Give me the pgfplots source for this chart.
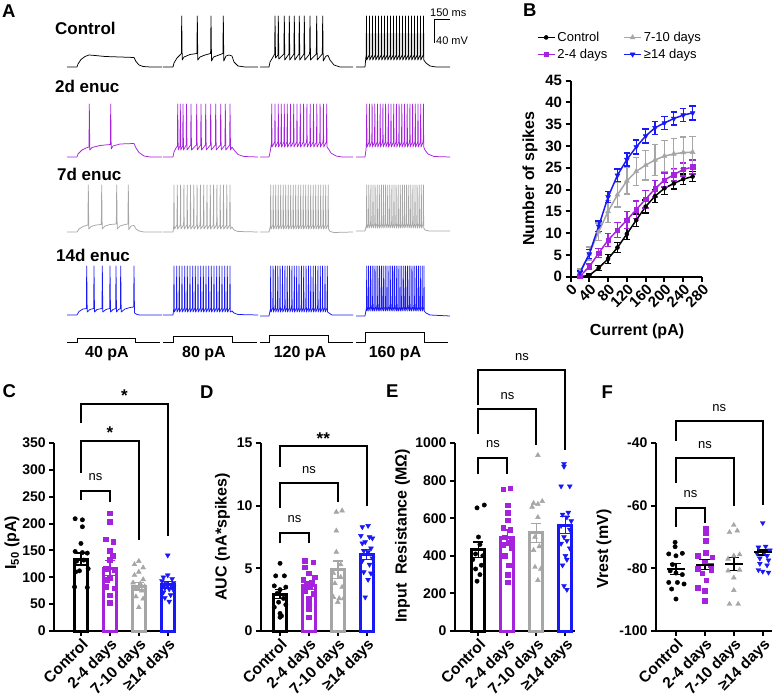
\documentclass[border=0pt]{standalone}
\usepackage{pgfplots}
\pgfplotsset{compat=1.18}
\usepackage{fontspec}
\setmainfont{Liberation Sans}
\definecolor{cpur}{RGB}{165,35,220}
\definecolor{cgry}{RGB}{166,166,166}
\definecolor{cblu}{RGB}{25,25,245}
\newcommand{\fs}[1]{\fontsize{#1}{#1}\selectfont}
\pgfplotsset{
  prism/.style={scale only axis, anchor=south west,
    axis x line*=bottom, axis y line*=left,
    axis line style={-, line width=2pt, black},
    tick align=outside, major tick length=5pt,
    major tick style={line width=2pt, black},
    /pgf/number format/assume math mode=true,
    /pgf/number format/1000 sep={},
    ticklabel style={font=\fs{14}\bfseries},
    label style={font=\fs{16}\bfseries},
    clip=false},
  catax/.style={prism, width=#1, height=188pt,
    xtick={0,1,2,3},
    xticklabels={Control,2-4 days,7-10 days,≥14 days},
    xticklabel style={rotate=45, anchor=north east, inner sep=1pt, font=\fs{15.5}\bfseries}},
  trace/.style={line width=0.75pt, line join=round},
}
% bar with SEM: color, x, mean, sem
\newcommand{\pbar}[4]{\addplot[ybar, bar width=13pt, bar shift=0pt, draw=#1, fill=white, line width=3pt,
   error bars/.cd, y dir=both, y explicit,
   error bar style={line width=1.5pt, #1},
   error mark options={rotate=90, line width=1.5pt, mark size=5pt, #1}]
   coordinates {(#2,#3) +- (0,#4)};}
\newcommand{\pmean}[3]{\addplot[only marks, mark=-, mark size=9pt, mark options={line width=2pt, black},
   error bars/.cd, y dir=both, y explicit,
   error bar style={line width=1.5pt, black},
   error mark options={rotate=90, line width=1.5pt, mark size=5.5pt, black}]
   coordinates {(#1,#2) +- (0,#3)};}
\tikzset{ns/.style={anchor=base, font=\fs{13}, yshift=10pt},
         st/.style={anchor=base, font=\fs{17}\bfseries, yshift=2pt}}
\begin{document}
\begin{tikzpicture}
\useasboundingbox (0,0) rectangle (783pt,698pt);
% ================= Panel A (pixel coordinates) =================
\begin{axis}[at={(0pt,0pt)}, anchor=south west, width=783pt, height=698pt, scale only axis,
  xmin=0, xmax=783, ymin=0, ymax=698, y dir=reverse, hide axis, clip=false]
\node[anchor=base west, font=\fs{18.5}\bfseries, inner sep=0pt] at (axis cs:2,17.5) {A};
\node[anchor=base west, font=\fs{18.5}\bfseries, inner sep=0pt] at (axis cs:523,17) {B};
\node[anchor=base west, font=\fs{18.5}\bfseries, inner sep=0pt] at (axis cs:2.5,397) {C};
\node[anchor=base west, font=\fs{18.5}\bfseries, inner sep=0pt] at (axis cs:200,398) {D};
\node[anchor=base west, font=\fs{18.5}\bfseries, inner sep=0pt] at (axis cs:386,397) {E};
\node[anchor=base west, font=\fs{18.5}\bfseries, inner sep=0pt] at (axis cs:601.5,398) {F};
\node[anchor=base west, font=\fs{17}\bfseries, inner sep=0pt] at (axis cs:55,35) {Control};
\node[anchor=base west, font=\fs{17}\bfseries, inner sep=0pt] at (axis cs:55,92.5) {2d enuc};
\node[anchor=base west, font=\fs{17}\bfseries, inner sep=0pt] at (axis cs:57,181) {7d enuc};
\node[anchor=base west, font=\fs{17}\bfseries, inner sep=0pt] at (axis cs:56,262) {14d enuc};
\addplot[black, line width=1pt] coordinates {(450,19.3)(434.3,19.3)(434.3,43.3)};
\node[anchor=base west, font=\fs{11}, inner sep=0pt] at (axis cs:430,16.7) {150 ms};
\node[anchor=base west, font=\fs{11}, inner sep=0pt] at (axis cs:436,45) {40 mV};
% ---- Control traces
\addplot[trace, black] coordinates {(67,67)(77,67)(78,64)(81,59.5)(85,56.5)(89,55)(95,55.5)(105,56.5)(120,57)(134,57.5)(136,61.5)(139,65)(143,66.5)(150,67)(162,67)};
\addplot[trace, black] coordinates {(163,67)(173,67)(174,63)(177,58)(180,55)(181.4,53.5)(181.7,16)(182.2,60)(184,57)(190,54.5)(196.9,53.5)(197.3,16)(197.8,60)(200,57)(205,55)(210.6,53.5)(211,16)(211.5,61)(213.5,57)(219,55)(222.9,53.5)(223.3,16)(223.8,61)(226,56)(229,55)(232,56)(234,62)(238,66)(245,67)(258,67)};
\addplot[trace, black] coordinates {(260,67)(269,67)(270,62)(273,57)(274.7,54)(275,16)(275.5,58)(277.9,55)(278.3,16)(278.8,59)(283.9,54)(284.3,16)(284.8,60)(288.9,54)(289.3,16)(289.8,60)(293.9,54)(294.3,16)(294.8,60)(298.9,54)(299.3,16)(299.8,60)(303.9,54)(304.3,16)(304.8,60)(309.6,54)(310,16)(310.5,60)(316.3,54)(316.7,16)(317.2,60)(322.3,54)(322.7,16)(323.2,61)(326,56)(328,55.5)(330,60)(334,65)(340,67)(353,67)};
\addplot[trace, black] coordinates {(356,67)(365,67)(365.8,58)(366.2,55)(366.5,16)(366.8,60)(369.2,55)(369.5,16)(369.8,60)(372.2,55)(372.5,16)(372.8,60)(375.2,55)(375.5,16)(375.8,60)(378.2,55)(378.5,16)(378.8,60)(381.2,55)(381.5,16)(381.8,60)(384.2,55)(384.5,16)(384.8,60)(387.2,55)(387.5,16)(387.8,60)(390.2,55)(390.5,16)(390.8,60)(393.2,55)(393.5,16)(393.8,60)(396.2,55)(396.5,16)(396.8,60)(399.2,55)(399.5,16)(399.8,60)(402.2,55)(402.5,16)(402.8,60)(405.2,55)(405.5,16)(405.8,60)(408.2,55)(408.5,16)(408.8,60)(411.2,55)(411.5,16)(411.8,60)(414.2,55)(414.5,16)(414.8,60)(417.2,55)(417.5,16)(417.8,60)(420.2,55)(420.5,16)(420.8,60)(423.2,55)(423.5,16)(423.8,60)(426,63)(430,66)(436,67)(450,67)};
% ---- 2d traces
\addplot[trace, cpur] coordinates {(67,157)(77,157)(78,154)(82,150)(86,148)(89,147)(89.3,104)(89.8,150)(92,147.5)(100,145.5)(110.4,144.5)(110.7,104)(111.2,149)(113,146)(120,144)(134,143.5)(136,148)(139,152.5)(144,156)(150,157)(162,157)};
\addplot[trace, cpur] coordinates {(163,157)(173,157)(174,152)(176,148)(177.4,146)(177.7,104)(178.2,150)(180,146)(180.3,104)(180.8,150)(182.7,146)(183,104)(183.5,150)(186.2,145)(186.5,104)(187,150)(190.7,145)(191,104)(191.5,150)(196.4,145)(196.7,104)(197.2,150)(200.7,145)(201,104)(201.5,150)(205.4,145)(205.7,104)(206.2,150)(210.4,145)(210.7,104)(211.2,150)(215.4,145)(215.7,104)(216.2,150)(220.4,145)(220.7,104)(221.2,150)(225,145)(225.3,104)(225.8,150)(229.7,145)(230,104)(230.5,150)(232,147)(234,150)(238,154.5)(244,156.5)(258,157)};
\addplot[trace, cpur] coordinates {(260,157)(269,157)(270.5,150)(271.4,143)(271.7,104)(272,147)(274.7,142)(275,104)(275.3,147)(278,142)(278.3,104)(278.6,147)(281,142)(281.3,104)(281.6,147)(284,142)(284.3,104)(284.6,147)(287,142)(287.3,104)(287.6,147)(290.2,142)(290.5,104)(290.8,147)(293.4,142)(293.7,104)(294,147)(296.7,142)(297,104)(297.3,147)(300,142)(300.3,104)(300.6,147)(303.3,142)(303.6,104)(303.9,147)(306.6,142)(306.9,104)(307.2,147)(309.9,142)(310.2,104)(310.5,147)(313.2,142)(313.5,104)(313.8,147)(316.5,142)(316.8,104)(317.1,147)(319.8,142)(320.1,104)(320.4,147)(323.1,142)(323.4,104)(323.7,147)(326.4,142)(326.7,104)(327,147)(328.5,149)(331,153)(336,156)(342,157)(353,157)};
\addplot[trace, cpur] coordinates {(356,157)(365,157)(366,150)(366.4,143)(366.7,104)(367,147)(369.1,142)(369.4,104)(369.7,147)(371.8,142)(372.1,104)(372.4,147)(374.5,142)(374.8,104)(375.1,147)(377.2,142)(377.5,104)(377.8,147)(379.9,142)(380.2,104)(380.5,147)(382.6,142)(382.9,104)(383.2,147)(385.3,142)(385.6,104)(385.9,147)(388,142)(388.3,104)(388.6,147)(390.7,142)(391,104)(391.3,147)(393.4,142)(393.7,104)(394,147)(396.1,142)(396.4,104)(396.7,147)(398.8,142)(399.1,104)(399.4,147)(401.5,142)(401.8,104)(402.1,147)(404.2,142)(404.5,104)(404.8,147)(406.9,142)(407.2,104)(407.5,147)(409.6,142)(409.9,104)(410.2,147)(412.3,142)(412.6,104)(412.9,147)(415,142)(415.3,104)(415.6,147)(417.7,142)(418,104)(418.3,147)(420.4,142)(420.7,104)(421,147)(423.1,142)(423.4,104)(423.7,147)(425,150)(428,154)(434,156.5)(450,157)};
% ---- 7d traces
\addplot[trace, cgry] coordinates {(67,232)(77,232)(79,229)(83,226.5)(87.9,225)(88.3,185)(88.8,229)(91,226.5)(96,225)(101.3,224.5)(101.7,185)(102.2,229)(105,226)(110,224.5)(116.3,224)(116.7,185)(117.2,229)(120,226)(125,224.5)(127.9,224)(128.3,185)(128.8,229.5)(131,226)(134,225.5)(136,229)(139,231)(144,232)(162,232)};
\addplot[trace, cgry] coordinates {(163,232)(173,232)(173.7,226)(174,185)(174.3,229)(177,225)(177.3,185)(177.6,229)(180.3,225)(180.6,185)(180.9,229)(183.6,225)(183.9,185)(184.2,229)(186.9,225)(187.2,185)(187.5,229)(190.2,225)(190.5,185)(190.8,229)(193.5,225)(193.8,185)(194.1,229)(196.8,225)(197.1,185)(197.4,229)(200.1,225)(200.4,185)(200.7,229)(203.4,225)(203.7,185)(204,229)(206.7,225)(207,185)(207.3,229)(210,225)(210.3,185)(210.6,229)(213.3,225)(213.6,185)(213.9,229)(216.6,225)(216.9,185)(217.2,229)(219.9,225)(220.2,185)(220.5,229)(223.2,225)(223.5,185)(223.8,229)(226.5,225)(226.8,185)(227.1,229)(229.7,225)(230,185)(230.3,229)(232,227)(234,230)(238,231.5)(258,232)};
\addplot[trace, cgry] coordinates {(260,232)(269,232)(270,228)(270.4,226)(270.7,185)(271,229)(272.9,225)(273.2,185)(273.5,229)(275.4,225)(275.7,185)(276,229)(277.9,225)(278.2,185)(278.5,229)(280.4,225)(280.7,185)(281,229)(282.9,225)(283.2,185)(283.5,229)(285.4,225)(285.7,185)(286,229)(287.9,225)(288.2,185)(288.5,229)(290.4,225)(290.7,185)(291,229)(292.9,225)(293.2,185)(293.5,229)(295.4,225)(295.7,185)(296,229)(297.9,225)(298.2,185)(298.5,229)(300.4,225)(300.7,185)(301,229)(302.9,225)(303.2,185)(303.5,229)(305.4,225)(305.7,185)(306,229)(307.9,225)(308.2,185)(308.5,229)(310.4,225)(310.7,185)(311,229)(312.9,225)(313.2,185)(313.5,229)(315.4,225)(315.7,185)(316,229)(317.9,225)(318.2,185)(318.5,229)(320.4,225)(320.7,185)(321,229)(322.9,225)(323.2,185)(323.5,229)(325.4,225)(325.7,185)(326,229)(327.9,225)(328.2,185)(328.5,229)(330,231.5)(334,232.5)(353,232)};
\addplot[trace, cgry] coordinates {(356,231)(365,231)(366,227)(366.4,225)(366.7,185)(367,228)(368.5,224)(368.8,185)(369.1,228)(370.6,224)(370.9,185)(371.2,228)(372.7,224)(373,185)(373.3,228)(374.8,224)(375.1,185)(375.4,228)(376.9,224)(377.2,185)(377.5,228)(379,224)(379.3,185)(379.6,228)(381.1,224)(381.4,185)(381.7,228)(383.2,224)(383.5,185)(383.8,228)(385.3,224)(385.6,185)(385.9,228)(387.4,224)(387.7,185)(388,228)(389.5,224)(389.8,185)(390.1,228)(391.6,224)(391.9,185)(392.2,228)(393.7,224)(394,185)(394.3,228)(395.8,224)(396.1,185)(396.4,228)(397.9,224)(398.2,185)(398.5,228)(400,224)(400.3,185)(400.6,228)(402.1,224)(402.4,185)(402.7,228)(404.2,224)(404.5,185)(404.8,228)(406.3,224)(406.6,185)(406.9,228)(408.4,224)(408.7,185)(409,228)(410.5,224)(410.8,185)(411.1,228)(412.6,224)(412.9,185)(413.2,228)(414.7,224)(415,185)(415.3,228)(416.8,224)(417.1,185)(417.4,228)(418.9,224)(419.2,185)(419.5,228)(421,224)(421.3,185)(421.6,228)(423.1,224)(423.4,185)(423.7,228)(425,230)(429,231)(450,231)};
% ---- 14d traces
\addplot[trace, cblu] coordinates {(67,315)(77,315)(79,311.5)(83,309)(86.4,308.5)(86.7,266)(87.2,312)(90,309.5)(93.7,308.5)(94,266)(94.5,312)(97,309.5)(102,308.5)(102.3,266)(102.8,312)(106,309.5)(109.7,308.5)(110,266)(110.5,312)(113,309.5)(115.7,308.5)(116,266)(116.5,312)(118.5,309.5)(120.4,308.5)(120.7,266)(121.2,312)(125,309)(130,307.5)(133.7,307)(134,266)(134.5,313)(137,314.5)(140,315)(162,315)};
\addplot[trace, cblu] coordinates {(163,315)(173,315)(173.7,309)(174,266)(174.3,312)(176.4,308)(176.7,266)(177,312)(179,308)(179.3,266)(179.6,312)(181.7,308)(182,266)(182.3,312)(184.4,308)(184.7,266)(185,312)(187,308)(187.3,266)(187.6,312)(189.7,308)(190,266)(190.3,312)(192.4,308)(192.7,266)(193,312)(195,308)(195.3,266)(195.6,312)(197.7,308)(198,266)(198.3,312)(200.4,308)(200.7,266)(201,312)(203,308)(203.3,266)(203.6,312)(205.7,308)(206,266)(206.3,312)(208.4,308)(208.7,266)(209,312)(211,308)(211.3,266)(211.6,312)(213.7,308)(214,266)(214.3,312)(216.4,308)(216.7,266)(217,312)(219,308)(219.3,266)(219.6,312)(221.7,308)(222,266)(222.3,312)(224.4,308)(224.7,266)(225,312)(227,308)(227.3,266)(227.6,312)(229.7,308)(230,266)(230.3,312)(232,311)(234,313)(238,314.5)(258,315)};
\addplot[trace, cblu] coordinates {(260,316)(269,316)(270,311)(270.4,309)(270.7,266)(271,312)(272.8,308)(273.1,266)(273.4,312)(275.1,308)(275.4,266)(275.7,312)(277.5,308)(277.8,266)(278.1,312)(279.8,308)(280.1,266)(280.4,312)(282.2,308)(282.5,266)(282.8,312)(284.6,308)(284.9,266)(285.2,312)(286.9,308)(287.2,266)(287.5,312)(289.3,308)(289.6,266)(289.9,312)(291.6,308)(291.9,266)(292.2,312)(294,308)(294.3,266)(294.6,312)(296.4,308)(296.7,266)(297,312)(298.7,308)(299,266)(299.3,312)(301.1,308)(301.4,266)(301.7,312)(303.4,308)(303.7,266)(304,312)(305.8,308)(306.1,266)(306.4,312)(308.2,308)(308.5,266)(308.8,312)(310.5,308)(310.8,266)(311.1,312)(312.9,308)(313.2,266)(313.5,312)(315.2,308)(315.5,266)(315.8,312)(317.6,308)(317.9,266)(318.2,312)(320,308)(320.3,266)(320.6,312)(322.3,308)(322.6,266)(322.9,312)(324.7,308)(325,266)(325.3,312)(327,308)(327.3,266)(327.6,312)(329,313)(332,315)(353,315)};
\addplot[trace, cblu] coordinates {(356,316)(365,316)(366,310)(366.45,308)(366.7,266)(366.95,311)(368.25,307)(368.5,266)(368.75,311)(370.15,307)(370.4,266)(370.65,311)(371.95,307)(372.2,266)(372.45,311)(373.85,307)(374.1,266)(374.35,311)(375.65,307)(375.9,266)(376.15,311)(377.55,307)(377.8,266)(378.05,311)(379.35,307)(379.6,266)(379.85,311)(381.25,307)(381.5,266)(381.75,311)(383.05,307)(383.3,266)(383.55,311)(384.95,307)(385.2,266)(385.45,311)(386.75,307)(387,266)(387.25,311)(388.65,307)(388.9,266)(389.15,311)(390.45,307)(390.7,266)(390.95,311)(392.35,307)(392.6,266)(392.85,311)(394.15,307)(394.4,266)(394.65,311)(396.05,307)(396.3,266)(396.55,311)(397.85,307)(398.1,266)(398.35,311)(399.75,307)(400,266)(400.25,311)(401.55,307)(401.8,266)(402.05,311)(403.45,307)(403.7,266)(403.95,311)(405.25,307)(405.5,266)(405.75,311)(407.15,307)(407.4,266)(407.65,311)(408.95,307)(409.2,266)(409.45,311)(410.85,307)(411.1,266)(411.35,311)(412.65,307)(412.9,266)(413.15,311)(414.55,307)(414.8,266)(415.05,311)(416.35,307)(416.6,266)(416.85,311)(418.25,307)(418.5,266)(418.75,311)(420.05,307)(420.3,266)(420.55,311)(421.95,307)(422.2,266)(422.45,311)(423.75,307)(424,266)(424.25,311)(426,313)(430,315)(450,316)};
% ---- current steps
\addplot[black, line width=1pt] coordinates {(67,342.7)(77,342.7)(77,338.5)(135,338.5)(135,342.7)(160,342.7)};
\addplot[black, line width=1pt] coordinates {(163,342.7)(173,342.7)(173,336.5)(232,336.5)(232,342.7)(257,342.7)};
\addplot[black, line width=1pt] coordinates {(260,342.7)(269,342.7)(269,335)(328,335)(328,342.7)(353,342.7)};
\addplot[black, line width=1pt] coordinates {(356,342.7)(365,342.7)(365,332.7)(424,332.7)(424,342.7)(448,342.7)};
\node[anchor=base, font=\fs{16}\bfseries, inner sep=0pt] at (axis cs:107,357.5) {40 pA};
\node[anchor=base, font=\fs{16}\bfseries, inner sep=0pt] at (axis cs:204,357.5) {80 pA};
\node[anchor=base, font=\fs{16}\bfseries, inner sep=0pt] at (axis cs:300,357.5) {120 pA};
\node[anchor=base, font=\fs{16}\bfseries, inner sep=0pt] at (axis cs:395,357.5) {160 pA};
\end{axis}
% ================= Panel B =================
\begin{axis}[prism, at={(570.5pt,421.3pt)}, width=131.5pt, height=196pt,
  xmin=0, xmax=280, ymin=0, ymax=45,
  xtick={0,40,...,280}, ytick={0,5,...,45},
  ticklabel style={font=\fs{15}\bfseries},
  xticklabel style={rotate=45, anchor=north east, inner sep=1pt},
  xlabel={Current (pA)}, ylabel={Number of spikes},
  xlabel style={at={(axis description cs:0.506,-0.277)}, anchor=center},
  ylabel style={at={(axis description cs:-0.308,0.5)}, anchor=center},
  legend columns=2, transpose legend, legend cell align=left,
  legend style={at={(axis description cs:-0.28,1.27)}, anchor=north west, draw=none, fill=none,
    font=\fs{13}, row sep=2pt, /tikz/every even column/.append style={column sep=14pt}},
]
\addplot[black, line width=1.5pt, mark=*, mark size=2pt, mark options={line width=0.5pt},
  error bars/.cd, y dir=both, y explicit, error bar style={line width=1.3pt, black},
  error mark options={rotate=90, line width=1.3pt, mark size=3.2pt, black}]
  table[x=x, y=y, y error=e] {
x y e
20 0 0.2
40 0.3 0.3
60 2.0 0.5
80 4.1 1.0
100 6.7 1.2
120 9.8 1.3
140 13.0 1.4
160 16.1 1.5
180 18.5 1.5
200 20.3 1.4
220 21.4 1.3
240 22.4 1.2
260 23.0 1.1
};
\addlegendentry{Control}
\addplot[cpur, line width=1.5pt, mark=square*, mark size=2.2pt, mark options={line width=0.5pt},
  error bars/.cd, y dir=both, y explicit, error bar style={line width=1.3pt, cpur},
  error mark options={rotate=90, line width=1.3pt, mark size=3.2pt, cpur}]
  table[x=x, y=y, y error=e] {
x y e
20 0.1 0.2
40 2.3 0.6
60 5.4 1.0
80 8.4 1.5
100 10.7 1.7
120 13.0 1.9
140 15.4 2.0
160 17.8 2.0
180 20.2 1.9
200 22.2 1.6
220 23.4 1.4
240 24.6 1.5
260 25.2 1.6
};
\addlegendentry{2-4 days}
\addplot[cgry, line width=1.5pt, mark=triangle*, mark size=2.8pt, mark options={line width=0.5pt},
  error bars/.cd, y dir=both, y explicit, error bar style={line width=1.3pt, cgry},
  error mark options={rotate=90, line width=1.3pt, mark size=3.2pt, cgry}]
  table[x=x, y=y, y error=e] {
x y e
20 1.0 0.8
40 5.3 1.5
60 10.3 2.0
80 15.0 2.5
100 18.8 2.8
120 22.0 3.0
140 24.2 3.2
160 25.6 3.4
180 26.8 3.5
200 27.7 3.6
220 28.2 3.6
240 28.5 3.6
260 28.6 3.6
};
\addlegendentry{7-10 days}
\addplot[cblu, line width=1.5pt, mark=triangle*, mark size=2.8pt, mark options={line width=0.5pt, rotate=180},
  error bars/.cd, y dir=both, y explicit, error bar style={line width=1.3pt, cblu},
  error mark options={rotate=90, line width=1.3pt, mark size=3.2pt, cblu}]
  table[x=x, y=y, y error=e] {
x y e
20 0.9 0.4
40 5.2 1.0
60 11.6 1.2
80 18.3 1.3
100 23.3 1.4
120 26.9 1.5
140 29.8 1.6
160 32.3 1.6
180 34.2 1.5
200 35.3 1.5
220 36.3 1.5
240 37.1 1.5
260 37.6 1.6
};
\addlegendentry{≥14 days}
\end{axis}
% ================= Panel C =================
\begin{axis}[catax=120.7pt, at={(54.3pt,67pt)}, xmin=-0.92, xmax=3.25, ymin=0, ymax=350,
  ytick={0,50,...,350}, ylabel={I\textsubscript{50} (pA)},
  ylabel style={at={(axis description cs:-0.35,0.47)}, anchor=center}]
\pbar{black}{0}{134}{11}
\pbar{cpur}{1}{117}{14}
\pbar{cgry}{2}{83}{7}
\pbar{cblu}{3}{86}{6}
\addplot[only marks, mark=*, mark size=2.2pt, black] coordinates {(-0.2,209)(0.05,207)(0.05,194)(0,163)(-0.2,148)(0.05,146)(0.22,145)(0.1,132)(-0.15,130)(0.25,116)(-0.05,112)(-0.18,110)(-0.22,82)(0.22,81)};
\addplot[only marks, mark=square*, mark size=2.3pt, cpur] coordinates {(1,219)(1,203)(0.85,171)(1.12,166)(1,150)(1.1,140)(1,133)(0.85,116)(1.15,113)(1,98)(0.9,95)(0.85,82)(1.15,80)(1,67)(1,53)};
\addplot[only marks, mark=triangle*, mark size=2.8pt, cgry] coordinates {(2,130)(1.85,124)(2.15,118)(2,110)(1.85,104)(2.15,96)(1.8,90)(2.05,88)(2.2,83)(1.9,79)(2.1,75)(1.9,64)(2.15,60)(2,44)};
\addplot[only marks, mark=triangle*, mark size=2.8pt, mark options={rotate=180}, cblu] coordinates {(3,141)(3,104)(2.85,100)(3.15,97)(2.8,93)(3.2,90)(2.95,88)(3.1,86)(2.85,84)(3.2,82)(2.9,80)(3.05,78)(3.2,76)(2.85,72)(3.1,67)(2.9,62)(3.05,55)};
\addplot[black, line width=2pt] coordinates {(0,243)(0,261)(1,261)(1,241)};
\addplot[black, line width=2pt] coordinates {(0,295)(0,354)(2,354)(2,169)};
\addplot[black, line width=2pt] coordinates {(0,387)(0,423)(3,423)(3,177)};
\node[ns] at (axis cs:0.5,261) {ns};
\node[st] at (axis cs:1,354) {*};
\node[st] at (axis cs:1.5,423) {*};
\end{axis}
% ================= Panel D =================
\begin{axis}[catax=114pt, at={(261pt,67pt)}, xmin=-0.66, xmax=3.29, ymin=0, ymax=15,
  ytick={0,5,10,15}, ylabel={AUC (nA*spikes)},
  ylabel style={at={(axis description cs:-0.338,0.5)}, anchor=center}]
\pbar{black}{0}{2.95}{0.35}
\pbar{cpur}{1}{3.6}{0.3}
\pbar{cgry}{2}{4.9}{0.7}
\pbar{cblu}{3}{6.1}{0.4}
\addplot[only marks, mark=*, mark size=2.2pt, black] coordinates {(0,5.4)(-0.15,4.4)(0.15,4.4)(-0.2,3.6)(0.2,3.5)(0,3.3)(-0.1,3.0)(0.12,2.6)(-0.05,2.3)(0.2,2.1)(-0.2,1.9)(0,1.4)(0.05,1.2)(0,1.1)};
\addplot[only marks, mark=square*, mark size=2.3pt, cpur] coordinates {(0.85,5.6)(1.15,5.5)(0.85,5.1)(1,4.6)(1.2,4.3)(0.8,4.1)(1.1,3.9)(0.9,3.7)(1.05,3.5)(0.85,3.2)(1.15,3.0)(1,2.6)(1,2.2)(1,1.8)(1,1.1)};
\addplot[only marks, mark=triangle*, mark size=2.8pt, cgry] coordinates {(1.95,9.5)(2.15,9.6)(1.95,8.0)(1.95,6.3)(2.1,5.3)(1.85,4.6)(2.1,4.3)(1.9,3.8)(2.15,3.5)(1.85,2.7)(2.05,2.6)(2.2,2.6)(2,2.3)};
\addplot[only marks, mark=triangle*, mark size=2.8pt, mark options={rotate=180}, cblu] coordinates {(3.05,8.4)(2.85,8.3)(2.8,7.6)(3.1,7.5)(3.2,7.4)(2.95,7.1)(2.85,7.0)(3.15,6.6)(2.9,6.4)(3.05,6.3)(3.2,5.8)(2.85,5.6)(3.1,5.3)(2.9,4.7)(3.15,4.6)(3.05,4.1)(2.95,2.7)};
\addplot[black, line width=2pt] coordinates {(0,7.0)(0,7.84)(1,7.84)(1,7.0)};
\addplot[black, line width=2pt] coordinates {(0,9.8)(0,11.78)(2,11.78)(2,10.3)};
\addplot[black, line width=2pt] coordinates {(0,13.1)(0,14.76)(3,14.76)(3,10.0)};
\node[ns] at (axis cs:0.5,7.84) {ns};
\node[ns] at (axis cs:1,11.78) {ns};
\node[st] at (axis cs:1.5,14.76) {**};
\end{axis}
% ================= Panel E =================
\begin{axis}[catax=120pt, at={(455pt,67pt)}, xmin=-0.81, xmax=3.33, ymin=0, ymax=1000,
  ytick={0,200,...,1000}, ylabel={Input\ \ Resistance (MΩ)},
  ylabel style={at={(axis description cs:-0.4375,0.506)}, anchor=center}]
\pbar{black}{0}{432}{42}
\pbar{cpur}{1}{500}{38}
\pbar{cgry}{2}{522}{50}
\pbar{cblu}{3}{563}{45}
\addplot[only marks, mark=*, mark size=2.2pt, black] coordinates {(0.2,670)(-0.05,655)(0,500)(0.05,460)(-0.1,410)(0.15,400)(-0.2,380)(0.1,350)(-0.1,330)(0.05,300)(-0.05,265)};
\addplot[only marks, mark=square*, mark size=2.3pt, cpur] coordinates {(0.85,755)(1.1,760)(1,670)(1,630)(1,590)(0.85,550)(1.1,540)(0.9,500)(1.15,490)(1.05,470)(0.85,460)(1.15,440)(0.9,400)(1.05,350)(1,300)(1,260)};
\addplot[only marks, mark=triangle*, mark size=2.8pt, cgry] coordinates {(2.05,935)(2.2,690)(1.9,680)(2.05,675)(1.85,660)(2.05,605)(1.95,500)(2.1,450)(1.9,430)(1.95,340)(2.15,330)(2.05,270)};
\addplot[only marks, mark=triangle*, mark size=2.8pt, mark options={rotate=180}, cblu] coordinates {(2.95,890)(2.95,875)(2.85,770)(3.15,770)(3.1,630)(2.9,620)(3.05,605)(3.2,585)(2.85,560)(3.15,540)(2.95,500)(3.05,480)(2.85,465)(3.15,440)(3,400)(3.05,380)(2.9,350)(2.95,240)(3.05,220)};
\addplot[black, line width=2pt] coordinates {(0,835)(0,921)(1,921)(1,835)};
\addplot[black, line width=2pt] coordinates {(0,1048)(0,1179)(2,1179)(2,989)};
\addplot[black, line width=2pt] coordinates {(0,1200)(0,1388)(3,1388)(3,963)};
\node[ns] at (axis cs:0.5,921) {ns};
\node[ns] at (axis cs:1,1179) {ns};
\node[ns] at (axis cs:1.5,1388) {ns};
\end{axis}
% ================= Panel F =================
\begin{axis}[catax=115.7pt, at={(656pt,67pt)}, xmin=-0.69, xmax=3.31, ymin=-100, ymax=-40,
  ytick={-100,-80,-60,-40}, ylabel={Vrest (mV)},
  ylabel style={at={(axis description cs:-0.449,0.436)}, anchor=center}]
\addplot[only marks, mark=*, mark size=2.2pt, black] coordinates {(-0.03,-71.7)(-0.03,-73.1)(-0.25,-75.4)(0.22,-75.2)(0.0,-76)(-0.12,-78.8)(-0.2,-80.8)(0.0,-81.5)(0.22,-82)(-0.25,-84.5)(0.05,-84.5)(0.28,-85)(-0.15,-86.6)(0,-89.8)};
\addplot[only marks, mark=square*, mark size=2.3pt, cpur] coordinates {(1.02,-67.4)(1.02,-68.8)(1.02,-71.2)(1.02,-75.0)(0.75,-76)(1.25,-76.5)(1.0,-78)(0.75,-80.2)(1.22,-80.6)(0.9,-81.5)(1.05,-83.8)(0.75,-86.2)(1.0,-87.2)(1.0,-90.4)(1.2,-79)};
\addplot[only marks, mark=triangle*, mark size=2.8pt, cgry] coordinates {(2.0,-66.2)(1.85,-68.5)(2.12,-68.0)(2.2,-75.6)(2.0,-76.0)(1.8,-77.0)(2.2,-80.5)(1.8,-80.8)(2.0,-83.0)(2.0,-87.0)(1.85,-91.4)(2.15,-91.4)};
\addplot[only marks, mark=triangle*, mark size=2.8pt, mark options={rotate=180}, cblu] coordinates {(3.0,-65.5)(2.85,-73.3)(3.1,-73.0)(3.25,-74.2)(2.8,-75.2)(3.15,-76.0)(2.9,-76.8)(3.2,-77.4)(2.9,-78.5)(3.15,-79.0)(2.85,-80.5)(3.0,-81.0)(3.2,-81.3)(3.05,-75.0)};
\pmean{0}{-80.2}{1.8}
\pmean{1}{-78.8}{1.6}
\pmean{2}{-78.6}{2.1}
\pmean{3}{-74.9}{0.8}
\addplot[black, line width=2pt] coordinates {(0,-66.7)(0,-60.6)(1,-60.6)(1,-65.6)};
\addplot[black, line width=2pt] coordinates {(0,-52.9)(0,-44.9)(2,-44.9)(2,-60.1)};
\addplot[black, line width=2pt] coordinates {(0,-39.3)(0,-33.0)(3,-33.0)(3,-59.8)};
\node[ns] at (axis cs:0.5,-60.6) {ns};
\node[ns] at (axis cs:1,-44.9) {ns};
\node[ns] at (axis cs:1.5,-33.0) {ns};
\end{axis}
\end{tikzpicture}
\end{document}
